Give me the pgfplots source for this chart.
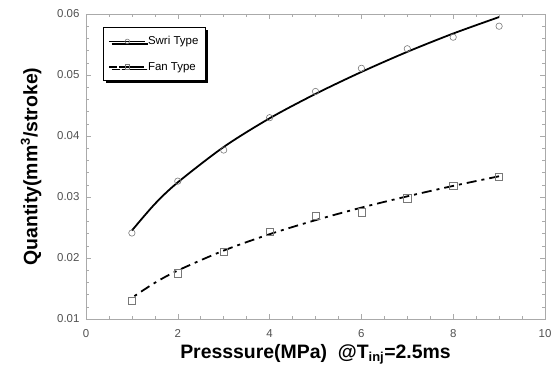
\documentclass[border=0pt]{standalone}
\usepackage{pgfplots}
\pgfplotsset{compat=1.18}
\usepackage{fontspec}
\setmainfont{Liberation Sans}
\usetikzlibrary{shadows}
\definecolor{axgray}{RGB}{170,170,170}
\definecolor{tickgray}{RGB}{80,80,80}
\definecolor{markgray}{RGB}{120,120,120}
\begin{document}
\begin{tikzpicture}
\begin{axis}[
  name=ax,
  at={(0,0)}, anchor=south west,
  scale only axis,
  width=459bp, height=305bp,
  xmin=0, xmax=10, ymin=0.01, ymax=0.06,
  xtick={0,2,...,10}, ytick={0.01,0.02,...,0.06},
  minor x tick num=3, minor y tick num=4,
  tick align=inside,
  major tick length=5bp, minor tick length=3bp,
  axis line style={axgray, line width=0.8pt},
  every tick/.style={axgray, line width=0.6pt},
  tick label style={font=\fontsize{11.5}{13}\selectfont, text=tickgray},
  /pgf/number format/assume math mode=true,
  yticklabel style={/pgf/number format/fixed, /pgf/number format/precision=2, /pgf/number format/fixed zerofill},
  scaled y ticks=false,
  xticklabel style={yshift=-7bp},
  yticklabel style={xshift=-3bp},
  xlabel={\textbf{Presssure(MPa)\ \ @T$_{\textbf{\fontsize{13}{14}\selectfont inj}}$=2.5ms}},
  ylabel={\textbf{Quantity(mm$^{\textbf{\fontsize{13}{14}\selectfont 3}}$/stroke)}},
  label style={font=\fontsize{19.5}{22}\selectfont},
  xlabel style={yshift=0bp},
  ylabel style={yshift=9bp},
  legend cell align=left,
  legend style={at={(17bp,292bp)}, anchor=north west,
    font=\fontsize{11.5}{13}\selectfont,
    draw=black, line width=1pt, fill=white,
    drop shadow={shadow xshift=2.5bp, shadow yshift=-2.5bp, fill=black, opacity=1},
    row sep=12bp, inner xsep=5bp, inner ysep=7bp},
  legend image code/.code={%
    \draw[mark repeat=2, mark phase=2, #1] plot coordinates {(0bp,0bp) (18bp,0bp) (36bp,0bp)};},
]
\addlegendimage{black, line width=1.6pt, mark=o, mark size=2.3bp, mark options={markgray, solid, line width=0.6pt}}
\addlegendentry{Swri Type}
\addlegendimage{black, line width=1.6pt, dash pattern=on 3bp off 2bp on 22bp off 0bp, dash phase=-5bp, mark=square, mark size=2.3bp, mark options={markgray, solid, line width=0.6pt}}
\addlegendentry{Fan Type}

% fitted curves
\addplot[black, line width=1.8pt, smooth, forget plot] coordinates {
 (1,0.0245) (1.5,0.02886) (2,0.0324) (3,0.0382) (4,0.0429) (5,0.0469)
 (6,0.0505) (7,0.0538) (8,0.0568) (9,0.0595)};
\addplot[black, line width=1.8pt, smooth, dash pattern=on 10bp off 5bp on 3bp off 5bp, dash phase=12bp, forget plot] coordinates {
 (1,0.01348) (1.5,0.01593) (2,0.01795) (3,0.02122) (4,0.0239) (5,0.0262)
 (6,0.02826) (7,0.03011) (8,0.03182) (9,0.0334)};

% data points
\addplot[only marks, mark=o, mark size=3.2bp, markgray, line width=0.6pt, forget plot] coordinates {
 (1,0.0241) (2,0.0326) (3,0.0377) (4,0.0430) (5,0.0473) (6,0.0511) (7,0.0543) (8,0.0562) (9,0.0580)};
\addplot[only marks, mark=square, mark size=3.6bp, markgray, line width=0.6pt, forget plot] coordinates {
 (1,0.0130) (2,0.0175) (3,0.0210) (4,0.0243) (5,0.0269) (6,0.0275) (7,0.0298) (8,0.0318) (9,0.0333)};
\end{axis}
\path (-86bp,-63bp) rectangle (474bp,319bp);
\end{tikzpicture}
\end{document}
